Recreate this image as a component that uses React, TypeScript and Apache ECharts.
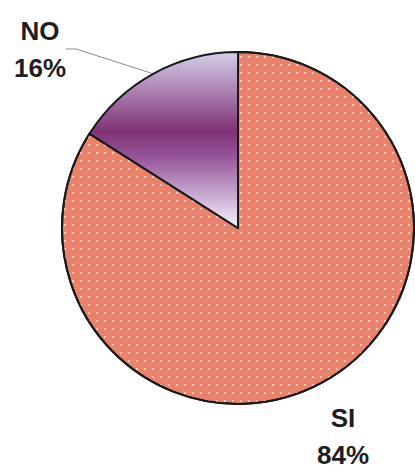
import React, { useEffect, useRef } from "react";
import * as echarts from "echarts";

const categories = ["SI", "NO"];
const values = [84, 16];

export default function App() {
  const ref = useRef<HTMLDivElement>(null);
  useEffect(() => {
    if (!ref.current) return;
    const chart = echarts.init(ref.current, null, { renderer: "svg" });
    const labelPos: Record<string, [number, number]> = {
      SI: [343, 436],
      NO: [40, 49],
    };
    chart.setOption({
      animation: false,
      backgroundColor: "#ffffff",
      series: [
        {
          type: "pie",
          center: [238, 228],
          radius: 176,
          startAngle: 90,
          clockwise: true,
          label: {
            show: true,
            formatter: "{b}\n{d}%",
            fontFamily: "Liberation Sans, Arial, sans-serif",
            fontWeight: "bold",
            fontSize: 26,
            lineHeight: 37,
            color: "#1e1e22",
            align: "center",
          },
          labelLine: {
            show: true,
            length: 10,
            length2: 10,
            lineStyle: { color: "#8a8a8a", width: 1 },
          },
          labelLayout: (params: any) => {
            const name = categories[params.dataIndex];
            const p = labelPos[name];
            return { x: p[0], y: p[1], align: "center", verticalAlign: "middle" };
          },
          itemStyle: { borderColor: "#1a1a1a", borderWidth: 2 },
          emphasis: { disabled: true },
          data: categories.map((c, i) => {
            if (c === "SI") {
              return {
                name: c,
                value: values[i],
                labelLine: { show: false },
                itemStyle: {
                  color: "#e9826d",
                  decal: {
                    symbol: "circle",
                    symbolSize: 1,
                    color: "rgba(255,240,225,0.85)",
                    dashArrayX: [2, 6],
                    dashArrayY: [2, 6],
                    rotation: 0,
                  },
                },
              };
            }
            return {
              name: c,
              value: values[i],
              itemStyle: {
                color: {
                  type: "linear",
                  x: 0,
                  y: 0,
                  x2: 0,
                  y2: 1,
                  colorStops: [
                    { offset: 0, color: "#d6cfea" },
                    { offset: 0.45, color: "#7f3276" },
                    { offset: 0.6, color: "#97569a" },
                    { offset: 1, color: "#f4f4ff" },
                  ],
                },
              },
            };
          }),
        },
      ],
    });
    return () => chart.dispose();
  }, []);
  return (
    <div
      ref={ref}
      style={{ position: "fixed", left: 0, top: 0, width: 415, height: 471 }}
    />
  );
}
